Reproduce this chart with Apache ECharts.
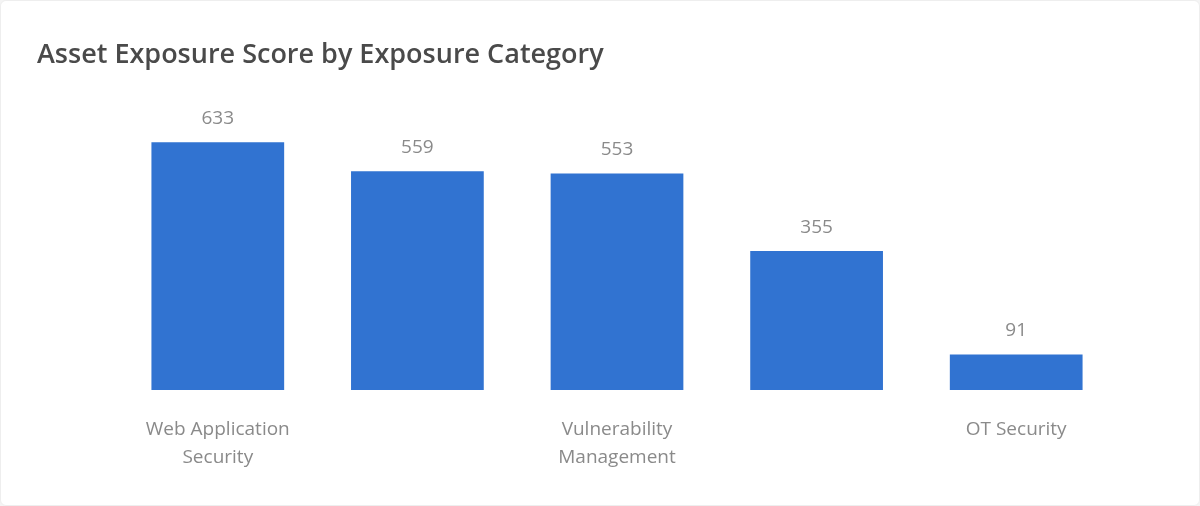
<!DOCTYPE html>
<html><head><meta charset="utf-8">
<script src="https://cdn.jsdelivr.net/npm/echarts@6/dist/echarts.min.js"></script>
<style>html,body{margin:0;padding:0;background:#f4f4f4}#c{width:1198px;height:504px;background:#fff;border:1px solid #eee;border-radius:6px}</style>
</head><body><div id="c"></div>
<script>
const categories=["Web Application\nSecurity","Identity Exposure","Vulnerability\nManagement","Cloud Security","OT Security"];
const values=[633,559,553,355,91];
const chart=echarts.init(document.getElementById('c'));
chart.setOption({
  title:{text:"Asset Exposure Score by Exposure Category",left:31,top:36,textStyle:{fontFamily:"Open Sans",fontSize:27,fontWeight:600,color:"#4a4a4a"}},
  grid:{left:117,right:83,top:115,bottom:115},
  xAxis:{type:"category",data:categories,axisLine:{show:false},axisTick:{show:false},
    axisLabel:{color:"#8a8a8a",fontSize:19,fontFamily:"Open Sans",margin:26,lineHeight:28}},
  yAxis:{type:"value",min:0,max:700,show:false,splitLine:{show:false}},
  series:[{type:"bar",data:values,barWidth:"66.5%",itemStyle:{color:"#3173d1"},
    label:{show:true,position:"top",distance:14,color:"#8a8a8a",fontSize:19,fontFamily:"Open Sans"}}]
});
</script></body></html>
